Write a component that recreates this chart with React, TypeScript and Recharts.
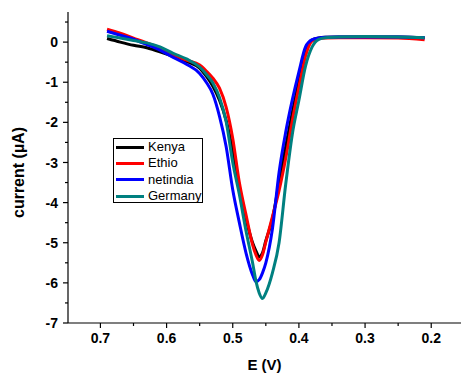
// Square-wave voltammograms for four samples — Recharts LineChart, reversed E axis.

import { Legend, Line, LineChart, XAxis, YAxis } from 'recharts';

const potentials = [
  0.69, 0.67, 0.65, 0.63, 0.61, 0.59, 0.57, 0.55, 0.54, 0.53, 0.52, 0.51, 0.5, 0.49, 0.48, 0.47,
  0.465, 0.46, 0.455, 0.45, 0.44, 0.43, 0.42, 0.41, 0.4, 0.39, 0.38, 0.37, 0.36, 0.34, 0.3, 0.25, 0.21,
];

const kenya = [
  0.09, 0.0, -0.08, -0.14, -0.24, -0.36, -0.48, -0.65, -0.85, -1.1, -1.45, -1.95, -2.7, -3.6, -4.4, -5.0,
  -5.2, -5.35, -5.25, -4.95, -4.4, -3.5, -2.6, -1.75, -0.95, -0.22, 0.05, 0.1, 0.12, 0.13, 0.13, 0.13, 0.11,
];

const ethio = [
  0.32, 0.22, 0.1, -0.02, -0.15, -0.32, -0.45, -0.57, -0.72, -0.9, -1.15, -1.62, -2.4, -3.5, -4.3, -5.05,
  -5.3, -5.44, -5.3, -4.98, -4.35, -3.7, -2.9, -1.96, -1.12, -0.35, 0.03, 0.08, 0.1, 0.11, 0.11, 0.1, 0.06,
];

const netindia = [
  0.27, 0.17, 0.07, -0.06, -0.2, -0.38, -0.55, -0.78, -1.0, -1.3, -1.85, -2.6, -3.68, -4.5, -5.25, -5.8,
  -5.97, -5.92, -5.75, -5.5, -4.65, -3.25, -2.25, -1.44, -0.74, -0.12, 0.06, 0.1, 0.12, 0.13, 0.13, 0.13, 0.11,
];

const germany = [
  0.16, 0.1, 0.04, -0.02, -0.12, -0.28, -0.42, -0.62, -0.8, -1.02, -1.38, -1.98, -3.0, -3.8, -4.7, -5.5,
  -5.95, -6.25, -6.39, -6.25, -5.75, -5.0, -3.55, -2.3, -1.45, -0.6, -0.12, 0.07, 0.11, 0.13, 0.14, 0.13, 0.11,
];

const seriesList = [
  { key: 'kenya', name: 'Kenya', color: '#000000' },
  { key: 'ethio', name: 'Ethio', color: '#FF0000' },
  { key: 'netindia', name: 'netindia', color: '#0000FF' },
  { key: 'germany', name: 'Germany', color: '#008080' },
];

const majorX = [0.7, 0.6, 0.5, 0.4, 0.3, 0.2];
const minorX = [0.65, 0.55, 0.45, 0.35, 0.25];
const majorY = [0, -1, -2, -3, -4, -5, -6, -7];
const minorY = [0.5, -0.5, -1.5, -2.5, -3.5, -4.5, -5.5, -6.5];

const data = potentials.map((e, i) => ({
  e,
  kenya: kenya[i],
  ethio: ethio[i],
  netindia: netindia[i],
  germany: germany[i],
}));

const FONT = '"Liberation Sans", Arial, sans-serif';

const isMajor = (list: number[], v: number) => list.some((m) => Math.abs(m - v) < 1e-6);

function XTick(props: any) {
  const { x, y, payload } = props;
  const major = isMajor(majorX, payload.value);
  return (
    <g>
      <line x1={x} y1={y} x2={x} y2={y + (major ? 5 : 3)} stroke="#000" strokeWidth={1.2} />
      {major && (
        <text x={x} y={y + 20} textAnchor="middle" fontFamily={FONT} fontWeight="bold" fontSize={14} fill="#000">
          {payload.value.toFixed(1)}
        </text>
      )}
    </g>
  );
}

function YTick(props: any) {
  const { x, y, payload } = props;
  const major = isMajor(majorY, payload.value);
  return (
    <g>
      <line x1={x} y1={y} x2={x - (major ? 5 : 3)} y2={y} stroke="#000" strokeWidth={1.2} />
      {major && (
        <text x={x - 10} y={y} dy="0.36em" textAnchor="end" fontFamily={FONT} fontWeight="bold" fontSize={14} fill="#000">
          {String(payload.value)}
        </text>
      )}
    </g>
  );
}

function LegendBox() {
  return (
    <div
      style={{
        width: 88,
        height: 63,
        border: '1px solid #000',
        background: '#fff',
        fontFamily: FONT,
        fontSize: 13,
        color: '#000',
      }}
    >
      {seriesList.map((s) => (
        <div key={s.key} style={{ display: 'flex', alignItems: 'center', height: 16.3 }}>
          <div style={{ width: 28, height: 3, background: s.color, marginLeft: 2, marginRight: 4 }} />
          <span style={{ lineHeight: '16px' }}>{s.name}</span>
        </div>
      ))}
    </div>
  );
}

export default function App() {
  return (
    <div style={{ position: 'absolute', left: 0, top: 0, width: 461, height: 375, background: '#fff' }}>
      <LineChart width={461} height={375} data={data} margin={{ top: 12, right: 0, bottom: 0, left: 10 }}>
        <XAxis
          dataKey="e"
          type="number"
          reversed
          domain={[0.155, 0.749]}
          ticks={[...majorX, ...minorX]}
          interval={0}
          allowDataOverflow
          height={52}
          tickSize={0}
          tickMargin={0}
          tickLine={false}
          tick={<XTick />}
          stroke="#000"
          strokeWidth={1.2}
          label={{
            value: 'E (V)',
            position: 'insideBottom',
            offset: 5,
            style: { fontFamily: FONT, fontWeight: 'bold', fontSize: 15, fill: '#000' },
          }}
        />
        <YAxis
          type="number"
          domain={[-7, 0.75]}
          ticks={[...majorY, ...minorY]}
          interval={0}
          allowDataOverflow
          width={58}
          tickSize={0}
          tickMargin={0}
          tickLine={false}
          tick={<YTick />}
          stroke="#000"
          strokeWidth={1.2}
          label={{
            value: 'current (µA)',
            angle: -90,
            position: 'insideLeft',
            offset: 0,
            dx: 8,
            dy: 5,
            style: { fontFamily: FONT, fontWeight: 'bold', fontSize: 16, fill: '#000', textAnchor: 'middle' },
          }}
        />
        <Legend
          verticalAlign="middle"
          align="center"
          layout="horizontal"
          wrapperStyle={{ left: 113, top: 138, width: 90 }}
          content={<LegendBox />}
        />
        {seriesList.map((s) => (
          <Line
            key={s.key}
            dataKey={s.key}
            name={s.name}
            type="monotone"
            stroke={s.color}
            strokeWidth={3}
            dot={false}
            isAnimationActive={false}
          />
        ))}
      </LineChart>
    </div>
  );
}
